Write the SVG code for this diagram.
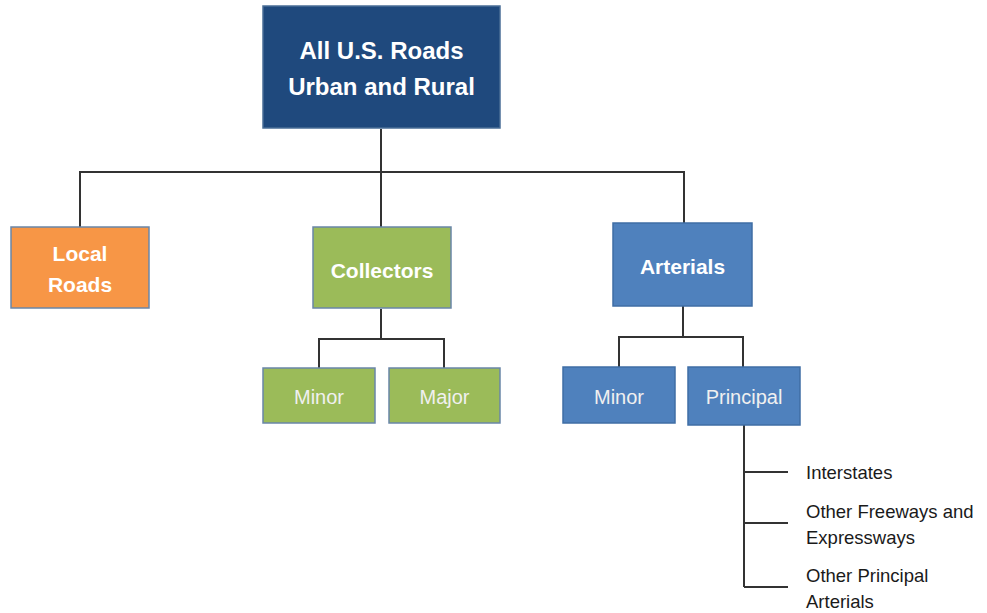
<svg xmlns="http://www.w3.org/2000/svg" width="987" height="613" viewBox="0 0 987 613">
<style>
.box{stroke-width:1.5}
.navy{fill:#1F497D;stroke:#4a6e96}
.blue{fill:#4F81BD;stroke:#3f6ea5}
.green{fill:#9BBB59;stroke:#6a86a8}
.orange{fill:#F79646;stroke:#6a86a8}
.t{font-family:"Liberation Sans",Arial,sans-serif;fill:#ffffff;text-anchor:middle;dominant-baseline:central}
.b{font-weight:bold}
.big{font-size:24px}
.mid{font-size:21px}
.sm{font-size:20px;fill:#f0f0f0}
.lbl{font-family:"Liberation Sans",Arial,sans-serif;font-size:18.5px;fill:#1a1a1a;dominant-baseline:central}
.c{fill:none;stroke:#333333;stroke-width:2}
</style>
<rect width="987" height="613" fill="#ffffff"/>
<g id="connectors">
<path class="c" d="M381,129 V227 M80,227 V172 H684 V223"/>
<path class="c" d="M381,309 V339 M319,368 V339 H444 V368"/>
<path class="c" d="M683,306 V337 M619,367 V337 H743 V367"/>
<path class="c" d="M744,425 V587 M744,472 H788 M744,523 H788 M744,587 H788"/>
</g>
<g id="node-all-roads">
<rect class="box navy" x="263" y="6" width="237" height="122"/>
<text class="t b big" x="381.5" y="50">All U.S. Roads</text>
<text class="t b big" x="381.5" y="86">Urban and Rural</text>
</g>
<g id="node-local-roads">
<rect class="box orange" x="11" y="227" width="138" height="81"/>
<text class="t b mid" x="80" y="253">Local</text>
<text class="t b mid" x="80" y="284">Roads</text>
</g>
<g id="node-collectors">
<rect class="box green" x="313" y="227" width="138" height="81"/>
<text class="t b mid" x="382" y="270">Collectors</text>
</g>
<g id="node-arterials">
<rect class="box blue" x="613" y="223" width="139" height="83"/>
<text class="t b mid" x="682.5" y="266">Arterials</text>
</g>
<g id="node-collector-minor">
<rect class="box green" x="263" y="368" width="112" height="55"/>
<text class="t sm" x="319" y="397">Minor</text>
</g>
<g id="node-collector-major">
<rect class="box green" x="389" y="368" width="111" height="55"/>
<text class="t sm" x="444.5" y="397">Major</text>
</g>
<g id="node-arterial-minor">
<rect class="box blue" x="563" y="367" width="112" height="56"/>
<text class="t sm" x="619" y="397">Minor</text>
</g>
<g id="node-arterial-principal">
<rect class="box blue" x="688" y="367" width="112" height="58"/>
<text class="t sm" x="744" y="397">Principal</text>
</g>
<g id="node-interstates">
<text class="lbl" x="806" y="472">Interstates</text>
</g>
<g id="node-other-freeways">
<text class="lbl" x="806" y="511">Other Freeways and</text>
<text class="lbl" x="806" y="537">Expressways</text>
</g>
<g id="node-other-principal">
<text class="lbl" x="806" y="575">Other Principal</text>
<text class="lbl" x="806" y="601">Arterials</text>
</g>
</svg>
